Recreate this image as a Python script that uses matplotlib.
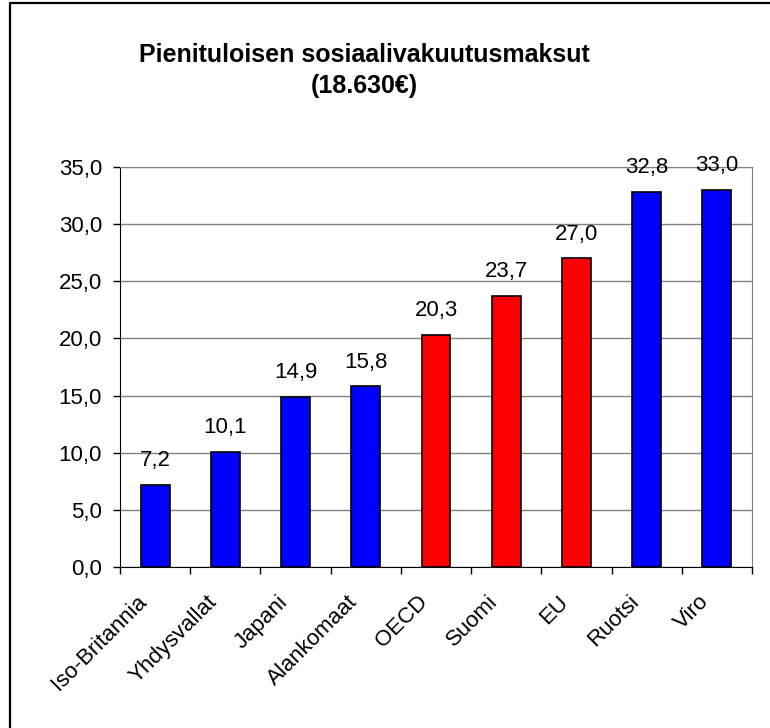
import matplotlib
matplotlib.use('Agg')
import matplotlib.pyplot as plt
from matplotlib.lines import Line2D
from matplotlib.transforms import ScaledTranslation

# chart data
countries = ['Iso-Britannia', 'Yhdysvallat', 'Japani', 'Alankomaat', 'OECD',
             'Suomi', 'EU', 'Ruotsi', 'Viro']
values = [7.2, 10.1, 14.9, 15.8, 20.3, 23.7, 27.0, 32.8, 33.0]
highlighted = ['OECD', 'Suomi', 'EU']
yticks = [0, 5, 10, 15, 20, 25, 30, 35]

plt.rcParams['font.family'] = ['Liberation Sans', 'DejaVu Sans']

fig = plt.figure(figsize=(7.7, 7.28), dpi=100)
W, H = 770, 728

# chart frame, only top and left edges are visible (cropped picture)
fig.lines.append(Line2D([10 / W, 10 / W, 1], [0, 1 - 3 / H, 1 - 3 / H],
                        transform=fig.transFigure, color='black', linewidth=1.6))

ax = fig.add_axes([120 / W, 1 - 567 / H, 632 / W, 400 / H])

colors = ['#ff0000' if c in highlighted else '#0000ff' for c in countries]
x = list(range(len(countries)))
ax.bar(x, values, width=0.41, color=colors, edgecolor='black', linewidth=1.2, zorder=3)

for xi, v in zip(x, values):
    ax.annotate(f'{v:.1f}'.replace('.', ','), (xi, v), xytext=(0, 13.5),
                textcoords='offset points', ha='center', va='baseline', fontsize=16)

ax.set_xlim(-0.5, len(countries) - 0.5)
ax.set_ylim(0, 35)
ax.set_yticks(yticks)
ax.set_yticklabels([f'{t:.1f}'.replace('.', ',') for t in yticks], fontsize=16)
ax.grid(axis='y', color='#808080', linewidth=1, zorder=0)

# category ticks at boundaries, labels centred
ax.set_xticks([i - 0.5 for i in range(len(countries) + 1)])
ax.set_xticklabels([])
ax.set_xticks(x, minor=True)
ax.set_xticklabels(countries, minor=True, rotation=45, ha='right', va='center',
                   rotation_mode='anchor', fontsize=16)
ax.tick_params(axis='x', which='minor', length=0, pad=23)
ax.tick_params(axis='x', which='major', length=5, width=1, direction='out')
ax.tick_params(axis='y', length=5, width=1, direction='out', pad=8)

shift = ScaledTranslation(-8 / 72, 0, fig.dpi_scale_trans)
for lbl in ax.get_xticklabels(minor=True):
    lbl.set_transform(lbl.get_transform() + shift)

for side in ['top', 'right']:
    ax.spines[side].set_color('#808080')
for side in ['left', 'bottom']:
    ax.spines[side].set_color('black')

fig.text(364 / W, 1 - 62 / H, 'Pienituloisen sosiaalivakuutusmaksut', ha='center',
         va='baseline', fontsize=18, fontweight='bold')
fig.text(364 / W, 1 - 93 / H, '(18.630€)', ha='center', va='baseline',
         fontsize=18, fontweight='bold')

fig.savefig('out.png', dpi=100)
